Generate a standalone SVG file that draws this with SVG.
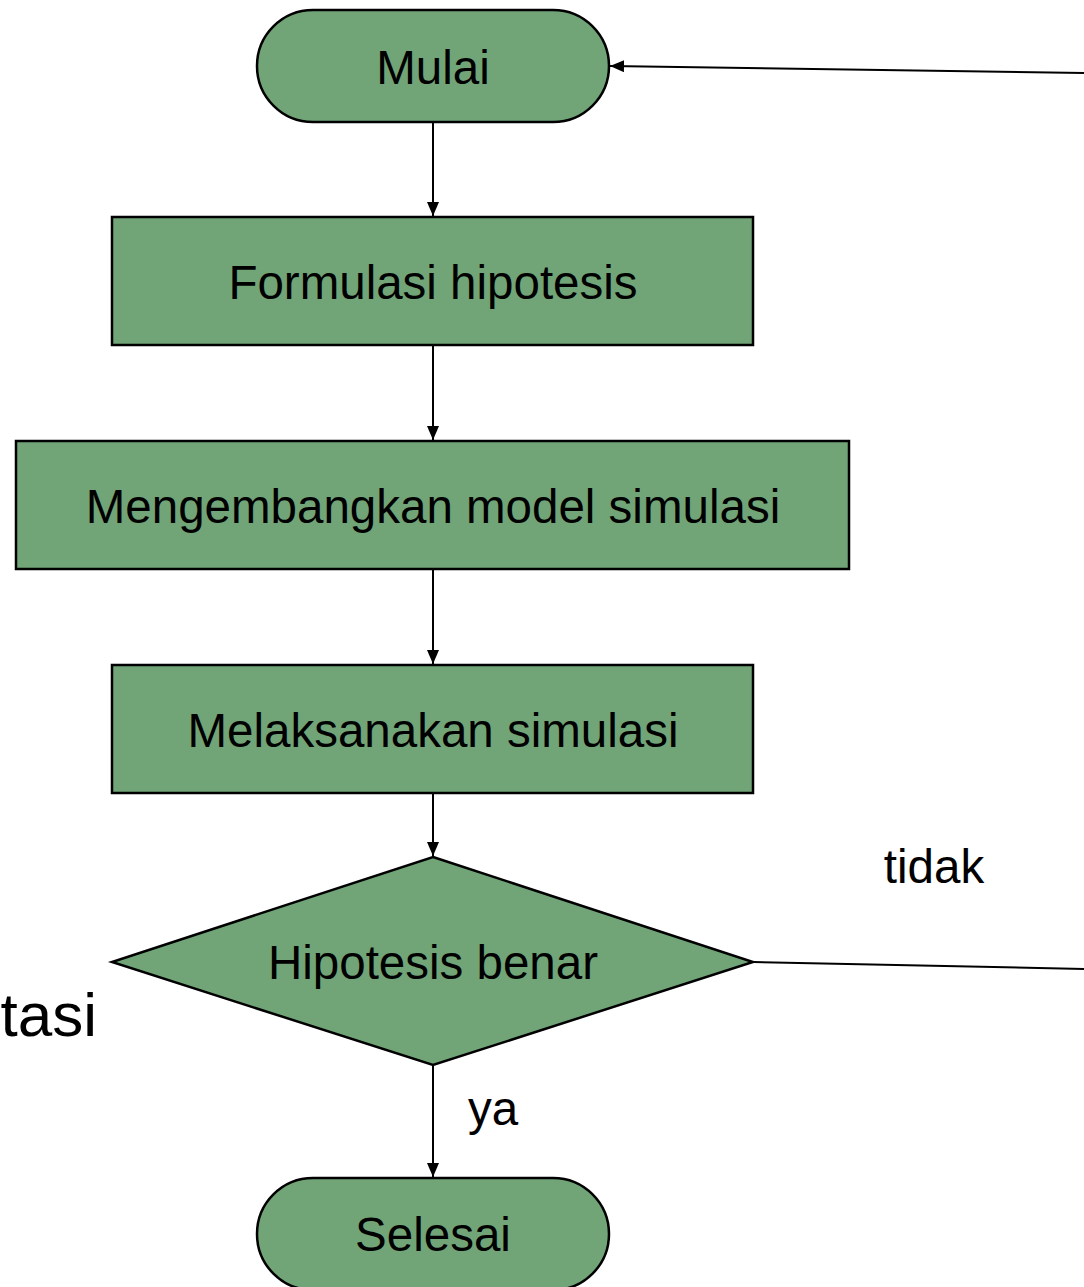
<svg xmlns="http://www.w3.org/2000/svg" width="1084" height="1287" viewBox="0 0 1084 1287">
<style>
.n{fill:#71a578;stroke:#000;stroke-width:2.5}
.t{font-family:"Liberation Sans",Arial,sans-serif;font-size:47.5px;fill:#000;text-anchor:middle}
.c{fill:none;stroke:#000;stroke-width:2}
</style>
<defs>
<marker id="a" viewBox="0 0 14 12" refX="14" refY="6" markerWidth="14" markerHeight="12" markerUnits="userSpaceOnUse" orient="auto">
<path d="M0,0L14,6L0,12Z" fill="#000"/>
</marker>
</defs>
<rect width="1084" height="1287" fill="#fff"/>
<g id="connectors">
<line class="c" x1="433" y1="122" x2="433" y2="216" marker-end="url(#a)"/>
<line class="c" x1="433" y1="345" x2="433" y2="440" marker-end="url(#a)"/>
<line class="c" x1="433" y1="569" x2="433" y2="664" marker-end="url(#a)"/>
<line class="c" x1="433" y1="793" x2="433" y2="856" marker-end="url(#a)"/>
<line class="c" x1="433" y1="1065" x2="433" y2="1177" marker-end="url(#a)"/>
<line class="c" x1="753" y1="962" x2="1084" y2="969"/>
<line class="c" x1="1084" y1="73" x2="610" y2="66" marker-end="url(#a)"/>
<text class="t" x="934" y="883">tidak</text>
<text class="t" x="493" y="1125">ya</text>
</g>
<g id="mulai">
<rect class="n" x="257" y="10" width="352" height="112" rx="56"/>
<text class="t" x="433" y="84">Mulai</text>
</g>
<g id="formulasi">
<rect class="n" x="112" y="217" width="641" height="128"/>
<text class="t" x="433" y="299">Formulasi hipotesis</text>
</g>
<g id="mengembangkan">
<rect class="n" x="16" y="441" width="833" height="128"/>
<text class="t" x="433" y="523">Mengembangkan model simulasi</text>
</g>
<g id="melaksanakan">
<rect class="n" x="112" y="665" width="641" height="128"/>
<text class="t" x="433" y="747">Melaksanakan simulasi</text>
</g>
<g id="hipotesis">
<polygon class="n" points="433,857 753,962 433,1065 112,962"/>
<text class="t" x="433" y="979">Hipotesis benar</text>
</g>
<g id="selesai">
<rect class="n" x="257" y="1178" width="352" height="112" rx="56"/>
<text class="t" x="433" y="1251">Selesai</text>
</g>
<text x="97" y="1036" style="font-family:'Liberation Sans',Arial,sans-serif;font-size:62px;text-anchor:end">tasi</text>
</svg>
